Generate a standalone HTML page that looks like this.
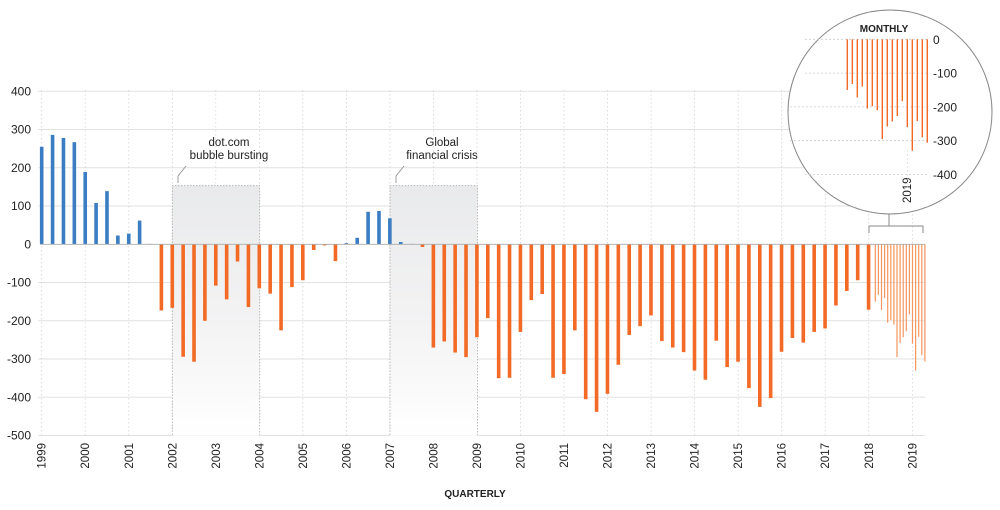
<!DOCTYPE html>
<html><head><meta charset="utf-8"><style>
html,body{margin:0;padding:0;background:#fff;}
svg text{font-family:"Liberation Sans",sans-serif;fill:#222;}
</style></head><body>
<svg id="s" width="1000" height="505" xmlns="http://www.w3.org/2000/svg">
<defs>
<linearGradient id="g" x1="0" y1="0" x2="0" y2="1">
<stop offset="0" stop-color="#e9eaeb"/><stop offset="0.55" stop-color="#f3f3f4"/><stop offset="1" stop-color="#ffffff"/>
</linearGradient>
</defs>
<g id="grid"></g>
<rect x="172.3" y="185.7" width="87.4" height="250" fill="url(#g)"/>
<rect x="390" y="185.7" width="87.4" height="250" fill="url(#g)"/>
<path d="M172.3 435 V185.7 H259.7 V435 M390 435 V185.7 H477.4 V435" fill="none" stroke="#aaa" stroke-width="0.8" stroke-dasharray="1.5,1.5"/>
<path d="M178 183 V176 L186 166 M396 183 V176 L404 166" fill="none" stroke="#888" stroke-width="0.8"/>
<text x="229" y="146" font-size="11.5" text-anchor="middle">dot.com</text>
<text x="229" y="159" font-size="11.5" text-anchor="middle">bubble bursting</text>
<text x="442" y="146" font-size="11.5" text-anchor="middle">Global</text>
<text x="442" y="159" font-size="11.5" text-anchor="middle">financial crisis</text>
<g id="bars"></g>
<line x1="40" y1="244.3" x2="925" y2="244.3" stroke="#aaa" stroke-width="0.8"/>
<path d="M889 214 V226 M869 233 V226 H923 V233" fill="none" stroke="#888" stroke-width="1"/>
<circle cx="890" cy="112" r="102" fill="#fff" stroke="#888" stroke-width="1"/>
<g id="circ"></g>
<text x="884" y="32" font-size="10" text-anchor="middle" font-weight="bold">MONTHLY</text>
<text x="475" y="497" font-size="10" text-anchor="middle" font-weight="bold">QUARTERLY</text>
</svg>
<script>
var NS="http://www.w3.org/2000/svg";
function el(p,t,a,txt){var e=document.createElementNS(NS,t);for(var k in a)e.setAttribute(k,a[k]);if(txt!==undefined)e.textContent=txt;document.getElementById(p).appendChild(e);return e;}
var Z=244.3,S=0.3825;
for(var v=400;v>=-500;v-=100){var y=Z-v*S;
 if(v!==0)el("grid","line",{x1:38,y1:y,x2:925,y2:y,stroke:"#e2e2e2","stroke-width":1});
 el("grid","text",{x:31,y:y+4,"font-size":12,"text-anchor":"end"},v);}
for(var i=0;i<=20;i++){var x=41.7+i*43.53;
 el("grid","line",{x1:x,y1:90,x2:x,y2:436,stroke:"#ccc","stroke-width":0.7,"stroke-dasharray":"1.5,2.5"});
 el("grid","text",{x:0,y:0,"font-size":11.5,"text-anchor":"end",transform:"translate("+(x+4)+",443) rotate(-90)"},1999+i);}
var q=[255,286,278,267,189,108,139,23,28,62,1,-173,-166,-294,-307,-200,-108,-144,-45,-164,-115,-129,-225,-112,-94,-15,-3,-44,3,17,85,87,68,6,1,-7,-270,-254,-283,-295,-243,-193,-350,-349,-229,-146,-130,-349,-339,-225,-405,-438,-391,-315,-237,-214,-186,-253,-270,-282,-330,-354,-252,-321,-307,-376,-425,-402,-281,-245,-257,-229,-220,-160,-122,-94,-171];
for(var i=0;i<q.length;i++){var x=41.7+i*10.88,v=q[i];var y=v>=0?Z-v*S:Z,h=Math.abs(v)*S;
 el("bars","rect",{x:x-1.8,y:y,width:3.6,height:Math.max(h,0.6),fill:v>=0?"#3a7dc2":"#f26a25"});}
var m=[-150,-132,-172,-140,-205,-198,-210,-295,-258,-243,-227,-183,-260,-330,-242,-290,-306];
for(var i=0;i<m.length;i++){var x=875.3+i*3.1;
 el("bars","rect",{x:x-0.6,y:Z,width:1.2,height:-m[i]*S,fill:"#f5955f"});}
var cz=39.3,cs=0.338;
for(var v=0;v>=-400;v-=100){var y=cz-v*cs;
 el("circ","line",{x1:v===-200||v===-300?790:805,y1:y,x2:928,y2:y,stroke:"#ccc","stroke-width":0.8,"stroke-dasharray":"2,2"});
 el("circ","text",{x:933,y:y+4.5,"font-size":12,"text-anchor":"start"},v);}
for(var i=0;i<m.length;i++){var x=847.3+i*5;
 el("circ","rect",{x:x-0.7,y:cz,width:1.4,height:-m[i]*cs,fill:"#f26a25"});}
el("circ","text",{x:0,y:0,"font-size":11.5,"text-anchor":"start",transform:"translate(911,203) rotate(-90)"},"2019");
el("circ","line",{x1:907.3,y1:150,x2:907.3,y2:190,stroke:"#ccc","stroke-width":0.7,"stroke-dasharray":"1.5,2.5"});
</script>
</body></html>
